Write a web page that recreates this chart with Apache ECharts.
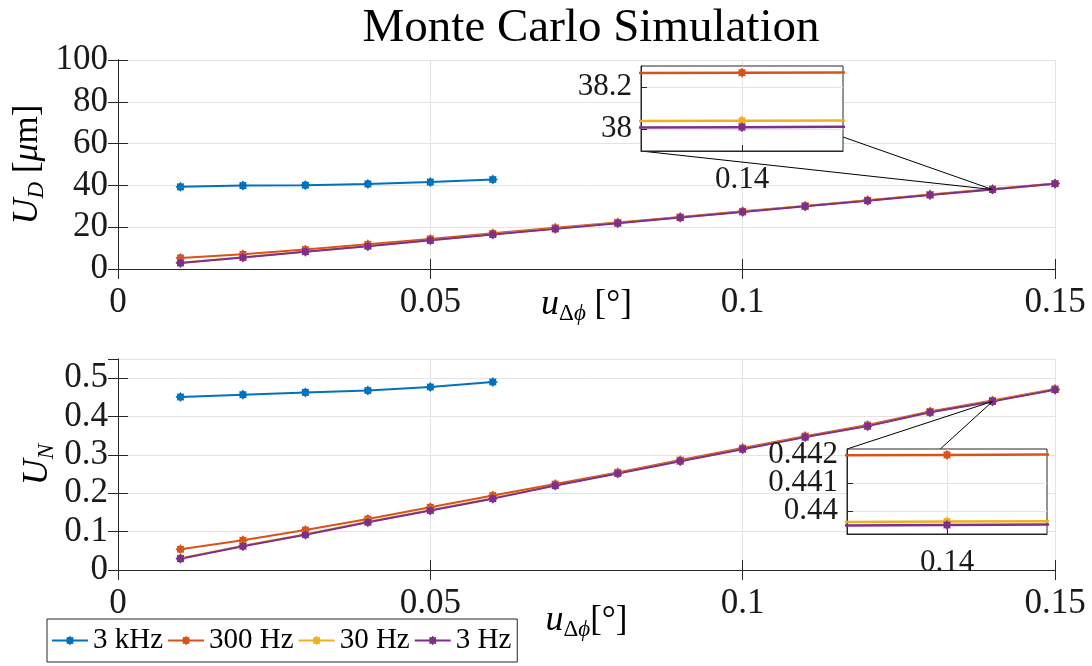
<!DOCTYPE html>
<html>
<head>
<meta charset="utf-8">
<script src="https://cdn.jsdelivr.net/npm/echarts@6/dist/echarts.min.js"></script>
<style>
  html, body { margin: 0; background: #fff; }
  #main { width: 1092px; height: 666px; }
</style>
</head>
<body>
<div id="main"></div>
<script>
// phase uncertainty [deg]
const xValues = [0.01, 0.02, 0.03, 0.04, 0.05, 0.06, 0.07, 0.08, 0.09, 0.1, 0.11, 0.12, 0.13, 0.14, 0.15];
const seriesNames = ['3 kHz', '300 Hz', '30 Hz', '3 Hz'];

// U_D [um]
const ud3k = [39.3, 39.9, 40.1, 40.7, 41.6, 42.8];
const ud300 = [5.3, 7.0, 9.3, 11.8, 14.4, 17.1, 19.7, 22.3, 24.9, 27.6, 30.2, 32.9, 35.6, 38.27, 40.9];
const ud30 = [3.0, 5.6, 8.4, 11.0, 13.8, 16.6, 19.3, 22.0, 24.7, 27.4, 30.1, 32.8, 35.5, 38.04, 40.8];
const ud3 = [2.9, 5.5, 8.3, 10.9, 13.7, 16.5, 19.2, 21.9, 24.6, 27.3, 30.0, 32.7, 35.4, 38.01, 40.8];

// U_N
const un3k = [0.451, 0.457, 0.463, 0.468, 0.477, 0.490];
const un300 = [0.054, 0.0775, 0.104, 0.133, 0.1636, 0.194, 0.224, 0.2545, 0.2865, 0.318, 0.349, 0.378, 0.413, 0.44199, 0.472];
const un30 = [0.031, 0.063, 0.093, 0.1255, 0.156, 0.187, 0.2205, 0.252, 0.284, 0.3155, 0.3465, 0.3755, 0.411, 0.43962, 0.4705];
const un3 = [0.0296, 0.062, 0.092, 0.1245, 0.155, 0.186, 0.220, 0.2515, 0.2837, 0.315, 0.3464, 0.375, 0.411, 0.4395, 0.470];

// zoomed-in windows
const zoomX = [0.139995, 0.140005];
const zoomUD = [37.896, 38.302];
const zoomUN = [0.43918, 0.4422];
const zoomXTicks = [0.14];
const zoomUDTicks = [38, 38.2];
const zoomUNTicks = [0.44, 0.441, 0.442];

const colors = ['#0072BD', '#D95319', '#EDB120', '#7E2F8E'];
const font = 'Liberation Serif';
const axisColor = '#262626';
const gridColor = '#e3e3e3';

function starPath(n, rOut, rIn) {
  let d = '';
  for (let i = 0; i < 2 * n; i++) {
    const r = i % 2 ? rIn : rOut;
    const a = Math.PI * i / n - Math.PI / 2;
    d += (i ? 'L' : 'M') + (r * Math.cos(a)).toFixed(3) + ' ' + (r * Math.sin(a)).toFixed(3);
  }
  return 'path://' + d + 'Z';
}
const marker = starPath(8, 1, 0.72);

const zip = (ys) => ys.map((y, i) => [xValues[i], y]);

const rich = {
  i: { fontFamily: font, fontStyle: 'italic', fontSize: 36, lineHeight: 40, color: '#000' },
  s: { fontFamily: font, fontSize: 23, lineHeight: 22, verticalAlign: 'bottom', color: '#000' },
  si: { fontFamily: font, fontStyle: 'italic', fontSize: 23, lineHeight: 22, verticalAlign: 'bottom', color: '#000' }
};
const nameStyle = { fontFamily: font, fontSize: 35, color: '#000', rich: rich };
const labelStyle = { fontFamily: font, fontSize: 35, color: '#1a1a1a' };

function mainX(grid, name, gap) {
  return [{
    type: 'value', gridIndex: grid, min: 0, max: 0.15, interval: 0.05,
    name: name, nameLocation: 'middle', nameGap: gap, nameMoveOverlap: false, nameTextStyle: nameStyle,
    axisLine: { lineStyle: { color: axisColor } },
    axisTick: { inside: true, length: 10, lineStyle: { color: axisColor } },
    axisLabel: Object.assign({ margin: 16 }, labelStyle),
    splitLine: { show: true, lineStyle: { color: gridColor } }
  }, {
    type: 'value', gridIndex: grid, position: 'top', min: 0, max: 0.15, interval: 0.05,
    axisLine: { lineStyle: { color: axisColor } },
    axisTick: { inside: true, length: 10, lineStyle: { color: axisColor } },
    axisLabel: { show: false }, splitLine: { show: false }
  }];
}
function mainY(grid, name, gap, max, interval) {
  return [{
    type: 'value', gridIndex: grid, min: 0, max: max, interval: interval,
    name: name, nameLocation: 'middle', nameGap: gap, nameMoveOverlap: false, nameTextStyle: nameStyle,
    axisLine: { show: true, lineStyle: { color: axisColor } },
    axisTick: { show: true, inside: true, length: 10, lineStyle: { color: axisColor } },
    axisLabel: Object.assign({ margin: 10, showMaxLabel: max === 100 }, labelStyle),
    splitLine: { show: true, lineStyle: { color: gridColor } }
  }, {
    type: 'value', gridIndex: grid, position: 'right', min: 0, max: max, interval: interval,
    axisLine: { show: true, lineStyle: { color: axisColor } },
    axisTick: { show: true, inside: true, length: 10, lineStyle: { color: axisColor } },
    axisLabel: { show: false }, splitLine: { show: false }
  }];
}
function zoomXAxis(grid) {
  return {
    type: 'value', gridIndex: grid, min: zoomX[0], max: zoomX[1], z: 21,
    axisLine: { lineStyle: { color: axisColor } },
    axisTick: { inside: true, length: 6, customValues: zoomXTicks, lineStyle: { color: axisColor } },
    axisLabel: Object.assign({ margin: 13, customValues: zoomXTicks, formatter: (v) => v.toFixed(2) }, labelStyle, { fontSize: 31 }),
    splitLine: { show: true, lineStyle: { color: gridColor } }
  };
}
// the inset labels sit closer than their font height, so each label gets its own axis
function zoomYAxes(grid, range, ticks) {
  return ticks.map((t, k) => ({
    type: 'value', gridIndex: grid, position: 'left', offset: 0, min: range[0], max: range[1], z: 21,
    axisLine: { show: k === 0, lineStyle: { color: axisColor } },
    axisTick: { show: k === 0, inside: true, length: 6, customValues: ticks, lineStyle: { color: axisColor } },
    axisLabel: Object.assign({
      margin: 9, customValues: [t], formatter: (v) => String(+v.toFixed(4))
    }, labelStyle, { fontSize: 31 }),
    splitLine: { show: k === 0, lineStyle: { color: gridColor } }
  }));
}

function lineSeries(name, data, xi, yi, z, width) {
  const c = colors[seriesNames.indexOf(name)];
  return {
    name: name, type: 'line', xAxisIndex: xi, yAxisIndex: yi, data: data, z: z,
    symbol: marker, symbolSize: 10, showAllSymbol: true, clip: true,
    itemStyle: { color: c }, lineStyle: { color: c, width: width || 2 }, animation: false
  };
}

const xName1 = '{i|u}{s|Δ}{si|ϕ} [°]';
const xName2 = '{i|u}{s|Δ}{si|ϕ}[°]';

const yTopInset = zoomYAxes(2, zoomUD, zoomUDTicks);
const yBotInset = zoomYAxes(3, zoomUN, zoomUNTicks);
const yTopInsetIdx = 4;
const yBotInsetIdx = 4 + yTopInset.length;

const option = {
  animation: false,
  title: {
    text: 'Monte Carlo Simulation', left: 586, top: 0, textAlign: 'center',
    textStyle: { fontFamily: font, fontSize: 47, fontWeight: 'normal', color: '#000' }
  },
  legend: {
    data: seriesNames, left: 47, top: 619, orient: 'horizontal',
    backgroundColor: '#fff', borderColor: axisColor, borderWidth: 1,
    padding: [7, 6, 7, 4], itemGap: 4, itemWidth: 36, itemHeight: 12,
    textStyle: { fontFamily: font, fontSize: 29, color: '#000' }
  },
  grid: [
    { left: 118, top: 60, width: 937, height: 209, outerBoundsMode: 'none' },
    { left: 118, top: 359, width: 937, height: 211, outerBoundsMode: 'none' },
    { left: 641, top: 66, width: 202, height: 85, z: 20, show: true, backgroundColor: '#fff', borderColor: axisColor, borderWidth: 1, outerBoundsMode: 'none' },
    { left: 847, top: 449, width: 200, height: 85, z: 20, show: true, backgroundColor: '#fff', borderColor: axisColor, borderWidth: 1, outerBoundsMode: 'none' }
  ],
  xAxis: [].concat(mainX(0, xName1, 16), mainX(1, xName2, 31), [zoomXAxis(2), zoomXAxis(3)]),
  yAxis: [].concat(
    mainY(0, '{i|U}{si|D} [{i|μ}m]', 70, 100, 20),
    mainY(1, '{i|U}{si|N}', 60, 0.55, 0.1),
    yTopInset, yBotInset
  ),
  series: [
    lineSeries('3 kHz', zip(ud3k), 0, 0, 2),
    lineSeries('300 Hz', zip(ud300), 0, 0, 2),
    lineSeries('30 Hz', zip(ud30), 0, 0, 2),
    lineSeries('3 Hz', zip(ud3), 0, 0, 2),
    lineSeries('3 kHz', zip(un3k), 2, 2, 2),
    lineSeries('300 Hz', zip(un300), 2, 2, 2),
    lineSeries('30 Hz', zip(un30), 2, 2, 2),
    lineSeries('3 Hz', zip(un3), 2, 2, 2),
    lineSeries('300 Hz', zip(ud300), 4, yTopInsetIdx, 22, 2.5),
    lineSeries('30 Hz', zip(ud30), 4, yTopInsetIdx, 22, 2.5),
    lineSeries('3 Hz', zip(ud3), 4, yTopInsetIdx, 22, 2.5),
    lineSeries('300 Hz', zip(un300), 5, yBotInsetIdx, 22, 2.5),
    lineSeries('30 Hz', zip(un30), 5, yBotInsetIdx, 22, 2.5),
    lineSeries('3 Hz', zip(un3), 5, yBotInsetIdx, 22, 2.5)
  ]
};

const chart = echarts.init(document.getElementById('main'));
chart.setOption(option);

// connector lines from the zoomed point to the inset's left corners
const idx = xValues.indexOf(0.14);
function connectors(mainXi, mainYi, zoomXi, zoomYi, yVal, range) {
  const p = chart.convertToPixel({ xAxisIndex: mainXi, yAxisIndex: mainYi }, [0.14, yVal]);
  const tl = chart.convertToPixel({ xAxisIndex: zoomXi, yAxisIndex: zoomYi }, [zoomX[0], range[1]]);
  const bl = chart.convertToPixel({ xAxisIndex: zoomXi, yAxisIndex: zoomYi }, [zoomX[0], range[0]]);
  return [tl, bl].map(c => ({
    type: 'line', z: 15, silent: true,
    shape: { x1: p[0], y1: p[1], x2: c[0], y2: c[1] },
    style: { stroke: '#000', lineWidth: 1 }
  }));
}
chart.setOption({
  graphic: [].concat(
    connectors(0, 0, 4, yTopInsetIdx, ud3[idx], zoomUD),
    connectors(2, 2, 5, yBotInsetIdx, un3[idx], zoomUN)
  )
});
</script>
</body>
</html>
